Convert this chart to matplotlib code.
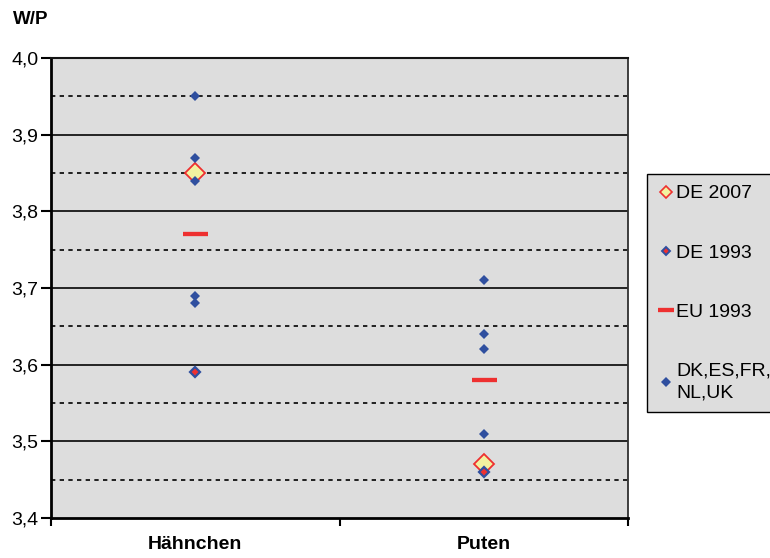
import matplotlib
matplotlib.use("Agg")
import matplotlib.pyplot as plt
from matplotlib.lines import Line2D
from matplotlib.ticker import FuncFormatter

plt.rcParams['font.family'] = ['Liberation Sans', 'DejaVu Sans']

# values
categories = ['Hähnchen', 'Puten']
de_2007 = [3.85, 3.47]
de_1993 = [3.59, 3.46]
eu_1993 = [3.77, 3.58]
others_haehnchen = [3.95, 3.87, 3.84, 3.69, 3.68]
others_puten = [3.71, 3.64, 3.62, 3.51]
others = [others_haehnchen, others_puten]

blue = '#2f4f9f'
red = '#ee3030'
yellow = '#f2f2a0'
bg = '#dddddd'

fig = plt.figure(figsize=(7.7, 5.58), dpi=100)
ax = fig.add_axes([51 / 770, 40 / 558, 577 / 770, 460 / 558])
ax.set_facecolor(bg)

xpos = [i + 0.5 for i in range(len(categories))]

# grid lines
for y in [3.5, 3.6, 3.7, 3.8, 3.9]:
    ax.axhline(y, color='#151515', lw=1.3, zorder=1)
for y in [3.45, 3.55, 3.65, 3.75, 3.85, 3.95]:
    ax.axhline(y, color='black', lw=1.2, dashes=(2.6, 2.6), zorder=1)

ax.plot(xpos, de_2007, 'D', ms=10.5, mfc=yellow, mec=red, mew=1.3, ls='none', zorder=3)
ax.plot(xpos, de_1993, 'D', ms=4.6, mfc=red, mec=blue, mew=1.6, ls='none', zorder=4)
ax.plot(xpos, eu_1993, '_', ms=18, mew=3.1, color=red, ls='none', zorder=3)
for x, vals in zip(xpos, others):
    ax.plot([x] * len(vals), vals, 'D', ms=5.2, color=blue, mew=0, ls='none', zorder=4)

ax.set_xlim(0, 2)
ax.set_ylim(3.4, 4.0)
ax.set_yticks([3.4, 3.5, 3.6, 3.7, 3.8, 3.9, 4.0])
ax.yaxis.set_major_formatter(FuncFormatter(lambda v, p: f"{v:.1f}".replace('.', ',')))
ax.tick_params(axis='y', length=7, width=1.5, pad=2, labelsize=14, direction='out')

ax.set_xticks(xpos)
ax.set_xticklabels(categories, fontsize=14, fontweight='bold')
ax.set_xticks([0, 1, 2], minor=True)
ax.tick_params(axis='x', which='major', length=0, pad=13)
ax.tick_params(axis='x', which='minor', length=6, width=1.5, direction='out')

for side in ['left', 'bottom']:
    ax.spines[side].set_linewidth(2)
    ax.spines[side].set_color('black')
ax.spines['top'].set_linewidth(1.5)
ax.spines['top'].set_color('#151515')
ax.spines['right'].set_linewidth(1.3)
ax.spines['right'].set_color('#303030')

fig.text(13 / 770, 1 - 20 / 558, 'W/P', fontsize=13.5, fontweight='bold', va='center', ha='left')

handles = [
    Line2D([], [], marker='D', ls='none', ms=6.5, mfc=yellow, mec=red, mew=1.2),
    Line2D([], [], marker='D', ls='none', ms=4.2, mfc=red, mec=blue, mew=1.4),
    Line2D([], [], marker='_', ls='none', ms=11, mew=3.1, color=red),
    Line2D([], [], marker='D', ls='none', ms=5, color=blue, mew=0),
]
labels = ['DE 2007', 'DE 1993', 'EU 1993', 'DK,ES,FR,\nNL,UK']
leg = fig.legend(handles, labels, loc='upper left', bbox_to_anchor=(647 / 770, 1 - 174 / 558),
                 frameon=True, fancybox=False, edgecolor='black', facecolor=bg, framealpha=1,
                 fontsize=14, handlelength=0.85, handletextpad=0.1, labelspacing=2.15,
                 borderpad=0.55, borderaxespad=0)
leg.get_frame().set_linewidth(1)
leg.get_texts()[3].set_linespacing(1.35)

fig.savefig('out.png', dpi=100)
